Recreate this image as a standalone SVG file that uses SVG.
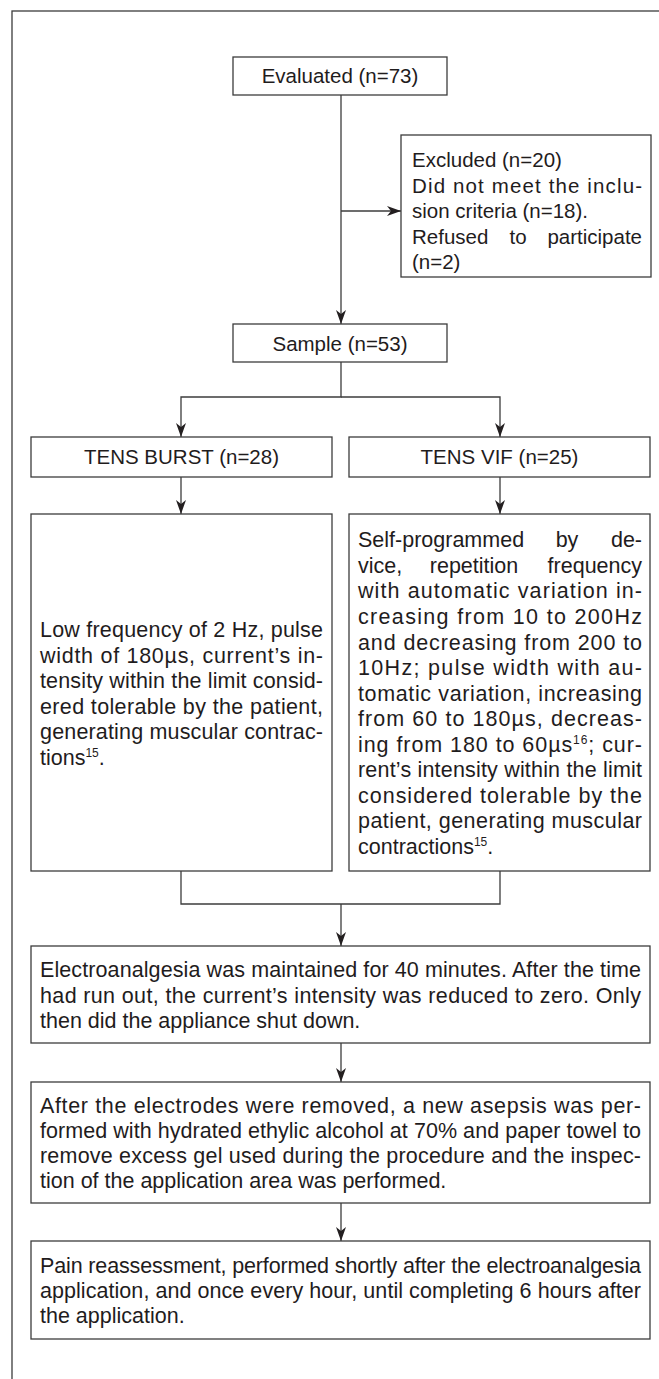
<svg xmlns="http://www.w3.org/2000/svg" width="659" height="1379" viewBox="0 0 659 1379">
<style>
.box{fill:#fff;stroke:#3c3c3c;stroke-width:1.3}
.frame{fill:none;stroke:#3c3c3c;stroke-width:1.3}
.ln{fill:none;stroke:#3c3c3c;stroke-width:1.3}
.lab{font-family:"Liberation Sans",Arial,sans-serif;font-size:20.5px;fill:#1f1c1d}
.txt{font-family:"Liberation Sans",Arial,sans-serif;font-size:21.5px;fill:#1f1c1d}
.c{text-anchor:middle}
.e{text-anchor:end}
</style>
<defs>
<marker id="arr" markerUnits="userSpaceOnUse" viewBox="0 0 14 10" markerWidth="14" markerHeight="10" refX="14" refY="5" orient="auto">
<path d="M0,0 L14,5 L0,10 L4,5 z" fill="#231f20"/>
</marker>
</defs>
<rect width="659" height="1379" fill="#fff"/>
<rect class="frame" x="12" y="11" width="700" height="1420"/>
<g id="connectors">
<line class="ln" x1="341" y1="95" x2="341" y2="324" marker-end="url(#arr)"/>
<line class="ln" x1="341" y1="211" x2="401" y2="211" marker-end="url(#arr)"/>
<polyline class="ln" points="341,362 341,397 181,397 181,437" marker-end="url(#arr)"/>
<polyline class="ln" points="341,397 500,397 500,437" marker-end="url(#arr)"/>
<line class="ln" x1="181" y1="477" x2="181" y2="514" marker-end="url(#arr)"/>
<line class="ln" x1="500" y1="477" x2="500" y2="514" marker-end="url(#arr)"/>
<polyline class="ln" points="181,871 181,904 500,904 500,871"/>
<line class="ln" x1="341" y1="904" x2="341" y2="946" marker-end="url(#arr)"/>
<line class="ln" x1="341" y1="1043" x2="341" y2="1082" marker-end="url(#arr)"/>
<line class="ln" x1="341" y1="1203" x2="341" y2="1241" marker-end="url(#arr)"/>
</g>
<g id="n-evaluated">
<rect class="box" x="233" y="57" width="214" height="38"/>
<text class="lab c" x="340" y="83">Evaluated (n=73)</text>
</g>
<g id="n-excluded">
<rect class="box" x="401" y="135" width="250" height="142"/>
<text class="lab" x="412" y="167">Excluded (n=20)</text>
<text class="lab" x="412" y="192.5" textLength="230" lengthAdjust="spacing">Did not meet the inclu-</text>
<text class="lab" x="412" y="218">sion criteria (n=18).</text>
<text class="lab" x="412" y="243.5">Refused</text>
<text class="lab c" x="518" y="243.5">to</text>
<text class="lab e" x="642" y="243.5">participate</text>
<text class="lab" x="412" y="269">(n=2)</text>
</g>
<g id="n-sample">
<rect class="box" x="233" y="324" width="214" height="38"/>
<text class="lab c" x="340" y="351">Sample (n=53)</text>
</g>
<g id="n-burst">
<rect class="box" x="31" y="437" width="301" height="40"/>
<text class="lab c" x="181.5" y="464">TENS BURST (n=28)</text>
</g>
<g id="n-vif">
<rect class="box" x="349" y="437" width="301" height="40"/>
<text class="lab c" x="499.5" y="464">TENS VIF (n=25)</text>
</g>
<g id="n-burst-desc">
<rect class="box" x="31" y="514" width="301" height="357"/>
<text class="txt" x="40" y="637" textLength="283" lengthAdjust="spacing">Low frequency of 2 Hz, pulse</text>
<text class="txt" x="40" y="662.5" textLength="283" lengthAdjust="spacing">width of 180µs, current’s in-</text>
<text class="txt" x="40" y="688" textLength="283" lengthAdjust="spacing">tensity within the limit consid-</text>
<text class="txt" x="40" y="713.5" textLength="283" lengthAdjust="spacing">ered tolerable by the patient,</text>
<text class="txt" x="40" y="739" textLength="283" lengthAdjust="spacing">generating muscular contrac-</text>
<text class="txt" x="40" y="764.5">tions<tspan font-size="12" dy="-8">15</tspan><tspan dy="8">.</tspan></text>
</g>
<g id="n-vif-desc">
<rect class="box" x="349" y="514" width="301" height="357"/>
<text class="txt" x="358" y="547.3">Self-programmed</text>
<text class="txt c" x="567" y="547.3">by</text>
<text class="txt e" x="642" y="547.3">de-</text>
<text class="txt" x="358" y="572.9">vice,</text>
<text class="txt c" x="474" y="572.9">repetition</text>
<text class="txt e" x="642" y="572.9">frequency</text>
<text class="txt" x="358" y="598.4" textLength="284" lengthAdjust="spacing">with automatic variation in-</text>
<text class="txt" x="358" y="624" textLength="284" lengthAdjust="spacing">creasing from 10 to 200Hz</text>
<text class="txt" x="358" y="649.5" textLength="284" lengthAdjust="spacing">and decreasing from 200 to</text>
<text class="txt" x="358" y="675" textLength="284" lengthAdjust="spacing">10Hz; pulse width with au-</text>
<text class="txt" x="358" y="700.6" textLength="284" lengthAdjust="spacing">tomatic variation, increasing</text>
<text class="txt" x="358" y="726.2" textLength="284" lengthAdjust="spacing">from 60 to 180µs, decreas-</text>
<text class="txt" x="358" y="751.7" textLength="284" lengthAdjust="spacing">ing from 180 to 60µs<tspan font-size="12" dy="-8">16</tspan><tspan dy="8">; cur-</tspan></text>
<text class="txt" x="358" y="777.3" textLength="284" lengthAdjust="spacing">rent’s intensity within the limit</text>
<text class="txt" x="358" y="802.8" textLength="284" lengthAdjust="spacing">considered tolerable by the</text>
<text class="txt" x="358" y="828.4" textLength="284" lengthAdjust="spacing">patient, generating muscular</text>
<text class="txt" x="358" y="853.9">contractions<tspan font-size="12" dy="-8">15</tspan><tspan dy="8">.</tspan></text>
</g>
<g id="n-electro">
<rect class="box" x="31" y="946" width="619" height="97"/>
<text class="txt" x="40" y="977" textLength="601" lengthAdjust="spacing">Electroanalgesia was maintained for 40 minutes. After the time</text>
<text class="txt" x="40" y="1002.5" textLength="601" lengthAdjust="spacing">had run out, the current’s intensity was reduced to zero. Only</text>
<text class="txt" x="40" y="1028">then did the appliance shut down.</text>
</g>
<g id="n-removal">
<rect class="box" x="31" y="1082" width="619" height="121"/>
<text class="txt" x="40" y="1112.5" textLength="601" lengthAdjust="spacing">After the electrodes were removed, a new asepsis was per-</text>
<text class="txt" x="40" y="1137.5" textLength="601" lengthAdjust="spacing">formed with hydrated ethylic alcohol at 70% and paper towel to</text>
<text class="txt" x="40" y="1163" textLength="601" lengthAdjust="spacing">remove excess gel used during the procedure and the inspec-</text>
<text class="txt" x="40" y="1188">tion of the application area was performed.</text>
</g>
<g id="n-pain">
<rect class="box" x="31" y="1241" width="619" height="98"/>
<text class="txt" x="40" y="1273" textLength="601" lengthAdjust="spacing">Pain reassessment, performed shortly after the electroanalgesia</text>
<text class="txt" x="40" y="1298" textLength="601" lengthAdjust="spacing">application, and once every hour, until completing 6 hours after</text>
<text class="txt" x="40" y="1323">the application.</text>
</g>
</svg>
